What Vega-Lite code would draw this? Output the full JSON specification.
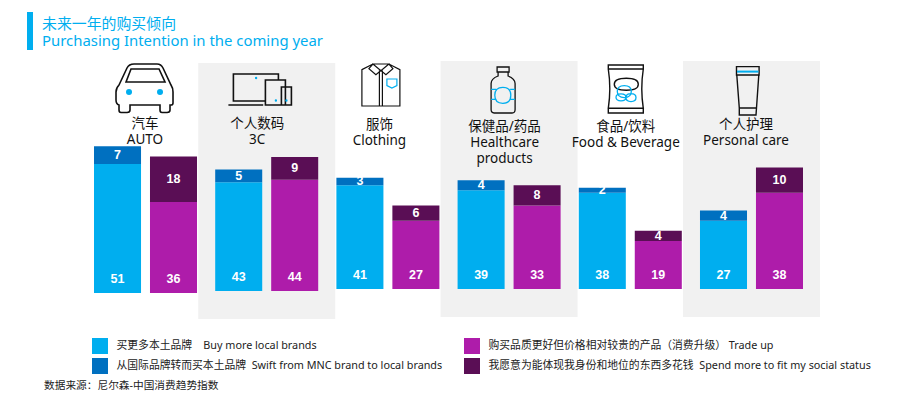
{
"$schema":"https://vega.github.io/schema/vega-lite/v6.json",
"width":904,"height":395,"padding":0,"autosize":{"type":"none"},"background":"white",
"data":{"values":[{}]},
"title":{"text":["未来一年的购买倾向","Purchasing Intention in the coming year"],"anchor":"start","frame":"group","dx":42,"dy":49,"offset":0,"orient":"top","font":"Noto Sans, Noto Sans CJK SC","fontSize":14.9,"fontWeight":"normal","color":"#00AEEF","lineHeight":17.5},
"config":{"axis":{"disable":true},"view":{"stroke":null},"font":"Noto Sans, Noto Sans CJK SC"},
"datasets":{"bars":[
{"category":"汽车","group":"local","part":"lower","series":"买更多本土品牌\u00a0\u00a0\u00a0\u00a0Buy more local brands","value":51},
{"category":"汽车","group":"local","part":"upper","series":"从国际品牌转而买本土品牌\u00a0\u00a0Swift from MNC brand to local brands","value":7},
{"category":"汽车","group":"premium","part":"lower","series":"购买品质更好但价格相对较贵的产品（消费升级）\u00a0Trade up","value":36},
{"category":"汽车","group":"premium","part":"upper","series":"我愿意为能体现我身份和地位的东西多花钱\u00a0\u00a0Spend more to fit my social status","value":18},
{"category":"个人数码","group":"local","part":"lower","series":"买更多本土品牌\u00a0\u00a0\u00a0\u00a0Buy more local brands","value":43},
{"category":"个人数码","group":"local","part":"upper","series":"从国际品牌转而买本土品牌\u00a0\u00a0Swift from MNC brand to local brands","value":5},
{"category":"个人数码","group":"premium","part":"lower","series":"购买品质更好但价格相对较贵的产品（消费升级）\u00a0Trade up","value":44},
{"category":"个人数码","group":"premium","part":"upper","series":"我愿意为能体现我身份和地位的东西多花钱\u00a0\u00a0Spend more to fit my social status","value":9},
{"category":"服饰","group":"local","part":"lower","series":"买更多本土品牌\u00a0\u00a0\u00a0\u00a0Buy more local brands","value":41},
{"category":"服饰","group":"local","part":"upper","series":"从国际品牌转而买本土品牌\u00a0\u00a0Swift from MNC brand to local brands","value":3},
{"category":"服饰","group":"premium","part":"lower","series":"购买品质更好但价格相对较贵的产品（消费升级）\u00a0Trade up","value":27},
{"category":"服饰","group":"premium","part":"upper","series":"我愿意为能体现我身份和地位的东西多花钱\u00a0\u00a0Spend more to fit my social status","value":6},
{"category":"保健品/药品","group":"local","part":"lower","series":"买更多本土品牌\u00a0\u00a0\u00a0\u00a0Buy more local brands","value":39},
{"category":"保健品/药品","group":"local","part":"upper","series":"从国际品牌转而买本土品牌\u00a0\u00a0Swift from MNC brand to local brands","value":4},
{"category":"保健品/药品","group":"premium","part":"lower","series":"购买品质更好但价格相对较贵的产品（消费升级）\u00a0Trade up","value":33},
{"category":"保健品/药品","group":"premium","part":"upper","series":"我愿意为能体现我身份和地位的东西多花钱\u00a0\u00a0Spend more to fit my social status","value":8},
{"category":"食品/饮料","group":"local","part":"lower","series":"买更多本土品牌\u00a0\u00a0\u00a0\u00a0Buy more local brands","value":38},
{"category":"食品/饮料","group":"local","part":"upper","series":"从国际品牌转而买本土品牌\u00a0\u00a0Swift from MNC brand to local brands","value":2},
{"category":"食品/饮料","group":"premium","part":"lower","series":"购买品质更好但价格相对较贵的产品（消费升级）\u00a0Trade up","value":19},
{"category":"食品/饮料","group":"premium","part":"upper","series":"我愿意为能体现我身份和地位的东西多花钱\u00a0\u00a0Spend more to fit my social status","value":4},
{"category":"个人护理","group":"local","part":"lower","series":"买更多本土品牌\u00a0\u00a0\u00a0\u00a0Buy more local brands","value":27},
{"category":"个人护理","group":"local","part":"upper","series":"从国际品牌转而买本土品牌\u00a0\u00a0Swift from MNC brand to local brands","value":4},
{"category":"个人护理","group":"premium","part":"lower","series":"购买品质更好但价格相对较贵的产品（消费升级）\u00a0Trade up","value":38},
{"category":"个人护理","group":"premium","part":"upper","series":"我愿意为能体现我身份和地位的东西多花钱\u00a0\u00a0Spend more to fit my social status","value":10}
]},
"layer":[
{"data":{"values":[{"category":"个人数码"}]},"mark":{"type":"bar","width":137,"color":"#F1F1F1"},
 "encoding":{"x":{"field":"category","type":"nominal","scale":{"domain":["汽车","个人数码","服饰","保健品/药品","食品/饮料","个人护理"],"range":[94,803],"paddingInner":0.15,"paddingOuter":0}},
 "y":{"datum":90.9,"type":"quantitative","scale":{"domain":[-40.32,115.81],"nice":false,"zero":false}},"y2":{"datum":-10.28}}},
{"data":{"values":[{"category":"保健品/药品"},{"category":"个人护理"}]},"mark":{"type":"bar","width":137,"color":"#F1F1F1"},
 "encoding":{"x":{"field":"category","type":"nominal"},"y":{"datum":91.7,"type":"quantitative"},"y2":{"datum":-9.49}}},

{"data":{"name":"bars"},
 "transform":[{"filter":"datum.category === '汽车'"},{"stack":"value","groupby":["category","group"],"sort":[{"field":"part","order":"ascending"}],"as":["y0","y1"]}],
 "mark":{"type":"bar"},
 "encoding":{"x":{"field":"category","type":"nominal"},
  "xOffset":{"field":"group","type":"nominal","scale":{"domain":["local","premium"],"paddingInner":0.16,"paddingOuter":0}},
  "y":{"field":"y0","type":"quantitative"},"y2":{"field":"y1"},
  "color":{"field":"series","type":"nominal","scale":{"domain":["买更多本土品牌\u00a0\u00a0\u00a0\u00a0Buy more local brands","从国际品牌转而买本土品牌\u00a0\u00a0Swift from MNC brand to local brands","购买品质更好但价格相对较贵的产品（消费升级）\u00a0Trade up","我愿意为能体现我身份和地位的东西多花钱\u00a0\u00a0Spend more to fit my social status"],"range":["#00AEEF","#0070C0","#AE1CAA","#5A0E55"]},
   "legend":{"title":null,"orient":"none","legendX":92,"legendY":338,"columns":2,"symbolType":"square","symbolSize":256,"symbolStrokeWidth":0,"labelFont":"Noto Sans, Noto Sans CJK SC","labelFontSize":10.8,"labelColor":"#222222","labelLimit":600,"labelOffset":8.5,"rowPadding":4,"columnPadding":21}}}},
{"data":{"name":"bars"},
 "transform":[{"filter":"datum.category === '个人数码'"},{"stack":"value","groupby":["category","group"],"sort":[{"field":"part","order":"ascending"}],"as":["y0","y1"]}],
 "mark":{"type":"bar","yOffset":-2,"y2Offset":-2},
 "encoding":{"x":{"field":"category","type":"nominal"},"xOffset":{"field":"group","type":"nominal"},"y":{"field":"y0","type":"quantitative"},"y2":{"field":"y1"},"color":{"field":"series","type":"nominal"}}},
{"data":{"name":"bars"},
 "transform":[{"filter":"datum.category !== '汽车' && datum.category !== '个人数码'"},{"stack":"value","groupby":["category","group"],"sort":[{"field":"part","order":"ascending"}],"as":["y0","y1"]}],
 "mark":{"type":"bar","yOffset":-4,"y2Offset":-4},
 "encoding":{"x":{"field":"category","type":"nominal"},"xOffset":{"field":"group","type":"nominal"},"y":{"field":"y0","type":"quantitative"},"y2":{"field":"y1"},"color":{"field":"series","type":"nominal"}}},

{"data":{"name":"bars"},"transform":[{"filter":"datum.part === 'lower' && datum.category === '汽车'"}],
 "mark":{"type":"text","color":"white","font":"Liberation Sans","fontWeight":"bold","fontSize":12.5,"baseline":"middle"},
 "encoding":{"x":{"field":"category","type":"nominal"},"xOffset":{"field":"group","type":"nominal"},"y":{"datum":5.5,"type":"quantitative"},"text":{"field":"value"}}},
{"data":{"name":"bars"},"transform":[{"filter":"datum.part === 'lower' && datum.category === '个人数码'"}],
 "mark":{"type":"text","color":"white","font":"Liberation Sans","fontWeight":"bold","fontSize":12.5,"baseline":"middle","dy":-2},
 "encoding":{"x":{"field":"category","type":"nominal"},"xOffset":{"field":"group","type":"nominal"},"y":{"datum":5.5,"type":"quantitative"},"text":{"field":"value"}}},
{"data":{"name":"bars"},"transform":[{"filter":"datum.part === 'lower' && datum.category !== '汽车' && datum.category !== '个人数码'"}],
 "mark":{"type":"text","color":"white","font":"Liberation Sans","fontWeight":"bold","fontSize":12.5,"baseline":"middle","dy":-4},
 "encoding":{"x":{"field":"category","type":"nominal"},"xOffset":{"field":"group","type":"nominal"},"y":{"datum":5.5,"type":"quantitative"},"text":{"field":"value"}}},

{"data":{"name":"bars"},
 "transform":[{"filter":"datum.category === '汽车'"},{"stack":"value","groupby":["category","group"],"sort":[{"field":"part","order":"ascending"}],"as":["y0","y1"]},{"filter":"datum.part === 'upper'"},{"fold":["y0","y1"],"as":["edge","pos"]}],
 "mark":{"type":"text","color":"white","font":"Liberation Sans","fontWeight":"bold","fontSize":12.5,"baseline":"middle"},
 "encoding":{"x":{"field":"category","type":"nominal"},"xOffset":{"field":"group","type":"nominal"},"y":{"aggregate":"mean","field":"pos","type":"quantitative"},"text":{"aggregate":"max","field":"value"}}},
{"data":{"name":"bars"},
 "transform":[{"filter":"datum.category === '个人数码'"},{"stack":"value","groupby":["category","group"],"sort":[{"field":"part","order":"ascending"}],"as":["y0","y1"]},{"filter":"datum.part === 'upper'"},{"fold":["y0","y1"],"as":["edge","pos"]}],
 "mark":{"type":"text","color":"white","font":"Liberation Sans","fontWeight":"bold","fontSize":12.5,"baseline":"middle","dy":-2},
 "encoding":{"x":{"field":"category","type":"nominal"},"xOffset":{"field":"group","type":"nominal"},"y":{"aggregate":"mean","field":"pos","type":"quantitative"},"text":{"aggregate":"max","field":"value"}}},
{"data":{"name":"bars"},
 "transform":[{"filter":"datum.category !== '汽车' && datum.category !== '个人数码'"},{"stack":"value","groupby":["category","group"],"sort":[{"field":"part","order":"ascending"}],"as":["y0","y1"]},{"filter":"datum.part === 'upper'"},{"fold":["y0","y1"],"as":["edge","pos"]}],
 "mark":{"type":"text","color":"white","font":"Liberation Sans","fontWeight":"bold","fontSize":12.5,"baseline":"middle","dy":-4},
 "encoding":{"x":{"field":"category","type":"nominal"},"xOffset":{"field":"group","type":"nominal"},"y":{"aggregate":"mean","field":"pos","type":"quantitative"},"text":{"aggregate":"max","field":"value"}}},

{"mark":{"type":"rule","color":"#00AEEF","strokeWidth":6},"encoding":{"x":{"datum":"汽车","type":"nominal"},"xOffset":{"value":-64},"y":{"datum":111.07,"type":"quantitative"},"y2":{"datum":96.05}}},
{"mark":{"type":"text","text":"汽车\nAUTO","lineBreak":"\n","lineHeight":16,"fontSize":13.5,"baseline":"top","color":"#111111"},"encoding":{"x":{"datum":"汽车","type":"nominal"},"xOffset":{"value":51},"y":{"datum":69.6,"type":"quantitative"}}},
{"mark":{"type":"text","text":"个人数码\n3C","lineBreak":"\n","lineHeight":16,"fontSize":13.5,"baseline":"top","color":"#111111"},"encoding":{"x":{"datum":"个人数码","type":"nominal"},"xOffset":{"value":42},"y":{"datum":69.4,"type":"quantitative"}}},
{"mark":{"type":"text","text":"服饰\nClothing","lineBreak":"\n","lineHeight":16,"fontSize":13.5,"baseline":"top","color":"#111111"},"encoding":{"x":{"datum":"服饰","type":"nominal"},"xOffset":{"value":43},"y":{"datum":69.2,"type":"quantitative"}}},
{"mark":{"type":"text","text":"保健品/药品\nHealthcare\nproducts","lineBreak":"\n","lineHeight":16,"fontSize":13.5,"baseline":"top","color":"#111111"},"encoding":{"x":{"datum":"保健品/药品","type":"nominal"},"xOffset":{"value":47},"y":{"datum":68.2,"type":"quantitative"}}},
{"mark":{"type":"text","text":"食品/饮料\nFood & Beverage","lineBreak":"\n","lineHeight":15.5,"fontSize":13.5,"baseline":"top","color":"#111111"},"encoding":{"x":{"datum":"食品/饮料","type":"nominal"},"xOffset":{"value":47},"y":{"datum":68.2,"type":"quantitative"}}},
{"mark":{"type":"text","text":"个人护理\nPersonal care","lineBreak":"\n","lineHeight":16,"fontSize":13.5,"baseline":"top","color":"#111111"},"encoding":{"x":{"datum":"个人护理","type":"nominal"},"xOffset":{"value":46},"y":{"datum":69.2,"type":"quantitative"}}},
{"mark":{"type":"text","text":"数据来源：尼尔森-中国消费趋势指数","align":"left","baseline":"middle","fontSize":10.7,"color":"#222222"},"encoding":{"x":{"datum":"汽车","type":"nominal"},"xOffset":{"value":-50},"y":{"datum":-36.9,"type":"quantitative"}}},

{"mark":{"type":"point","shape":"M-26.5,-5.6 l8,-17 q2,-4 7,-4 l23,0 q4,0 6,4 l8,17 q2,3 2,7 l0,11 q0,2 -2,2 l-1,0 l0,5 q0,2.5 -3,2.5 l-5,0 q-2,0 -2,-2.5 l0,-5 l-30,0 l0,5 q0,2.5 -3,2.5 l-6,0 q-2,0 -2,-2.5 l0,-5 q-3,-1 -3,-5 l0,-8 q0,-4 3,-7 z M-19.5,-8.6 l5,-13 l28,0 l6,13 z","size":4,"filled":false,"stroke":"#111111","strokeWidth":1.6,"opacity":1},"encoding":{"x":{"datum":"汽车","type":"nominal"},"y":{"datum":80,"type":"quantitative"}}},
{"mark":{"type":"point","shape":"M-19.5,1.4 q0,-3 3,-3 q3,0 3,3 q0,3 -3,3 q-3,0 -3,-3 z M11.5,1.4 q0,-3 3,-3 q3,0 3,3 q0,3 -3,3 q-3,0 -3,-3 z","size":4,"filled":true,"color":"#00AEEF","opacity":1},"encoding":{"x":{"datum":"汽车","type":"nominal"},"y":{"datum":80,"type":"quantitative"}}},

{"mark":{"type":"point","shape":"M11.7,-10.6 L11.7,-16.6 L-33.3,-16.6 L-33.3,10.4 L-1.3,10.4 M-38.3,14.4 L-3.5,14.4 M-1.3,-10.6 L18.7,-10.6 L18.7,14.4 L-1.3,14.4 Z M14.7,-3.6 L24.7,-3.6 L24.7,14.4 L14.7,14.4 Z","size":4,"filled":false,"stroke":"#111111","strokeWidth":1.6,"opacity":1},"encoding":{"x":{"datum":"个人数码","type":"nominal"},"y":{"datum":80,"type":"quantitative"}}},
{"mark":{"type":"point","shape":"M-11.8,-12.6 q0,-1.2 1.2,-1.2 q1.2,0 1.2,1.2 q0,1.2 -1.2,1.2 q-1.2,0 -1.2,-1.2 z M8,9.9 q0,-1.2 1.2,-1.2 q1.2,0 1.2,1.2 q0,1.2 -1.2,1.2 q-1.2,0 -1.2,-1.2 z M18.5,9.9 q0,-1.2 1.2,-1.2 q1.2,0 1.2,1.2 q0,1.2 -1.2,1.2 q-1.2,0 -1.2,-1.2 z","size":4,"filled":true,"color":"#00AEEF","opacity":1},"encoding":{"x":{"datum":"个人数码","type":"nominal"},"y":{"datum":80,"type":"quantitative"}}},

{"mark":{"type":"point","shape":"M-26,-21 L-15,-26.6 L1,-26.6 L12,-21 L12,15.4 L-26,15.4 Z M-15,-26.6 L-19,-22 L-12,-16 L-7,-20 L-2,-16 L5,-22 L1,-26.6 M-15,-26.6 L-7,-20 L1,-26.6 M-8.5,-20 L-8.5,15.4 M-5.5,-20 L-5.5,15.4","size":4,"filled":false,"stroke":"#111111","strokeWidth":1.2,"opacity":1},"encoding":{"x":{"datum":"服饰","type":"nominal"},"y":{"datum":80,"type":"quantitative"}}},
{"mark":{"type":"point","shape":"M-1,-11.6 L9,-11.6 L9,-5 L4,-2.6 L-1,-5 Z","size":4,"filled":false,"stroke":"#00AEEF","strokeWidth":1.2,"opacity":1},"encoding":{"x":{"datum":"服饰","type":"nominal"},"y":{"datum":80,"type":"quantitative"}}},

{"mark":{"type":"point","shape":"M-12,-23.6 L0,-23.6 L0,-18.6 L-12,-18.6 Z M-11,-18.6 L-11,-14.6 Q-18,-12 -18,-7 L-18,19 Q-18,22.4 -15,22.4 L3,22.4 Q6,22.4 6,19 L6,-7 Q6,-12 -1,-14.6 L-1,-18.6","size":4,"filled":false,"stroke":"#111111","strokeWidth":1.3,"opacity":1},"encoding":{"x":{"datum":"保健品/药品","type":"nominal"},"y":{"datum":80,"type":"quantitative"}}},
{"mark":{"type":"point","shape":"M-14.3,4.7 q0,-8 8,-8 q8,0 8,8 q0,8 -8,8 q-8,0 -8,-8 z M-18,-1.3 L-13,-1.3 M-18,8.7 L-13,8.7 M6,-1.3 L1,-1.3 M6,8.7 L1,8.7","size":4,"filled":false,"stroke":"#00AEEF","strokeWidth":1.3,"opacity":1},"encoding":{"x":{"datum":"保健品/药品","type":"nominal"},"y":{"datum":80,"type":"quantitative"}}},

{"mark":{"type":"point","shape":"M-22,-25.6 L13,-25.6 L13,-21.6 L-22,-21.6 Z M-22,-21.6 Q-19,-2 -22,17.7 L13,17.7 Q10,-2 13,-21.6 M-22,17.7 L13,17.7 L13,22.4 L-22,22.4 Z M-16,-6.3 q0,-6 12,-6 q12,0 12,6 q0,6 -12,6 q-12,0 -12,-6 z","size":4,"filled":false,"stroke":"#111111","strokeWidth":1.4,"opacity":1},"encoding":{"x":{"datum":"食品/饮料","type":"nominal"},"y":{"datum":80,"type":"quantitative"}}},
{"mark":{"type":"point","shape":"M-13,1 q0,-6 7,-6 q7,0 7,6 q0,6 -7,6 q-7,0 -7,-6 z M-14.3,6.7 q0,-3.5 5,-3.5 q5,0 5,3.5 q0,3.5 -5,3.5 q-5,0 -5,-3.5 z M-4.3,7 q0,-4 5,-4 q5,0 5,4 q0,4 -5,4 q-5,0 -5,-4 z","size":4,"filled":false,"stroke":"#00AEEF","strokeWidth":1.3,"opacity":1},"encoding":{"x":{"datum":"食品/饮料","type":"nominal"},"y":{"datum":80,"type":"quantitative"}}},

{"mark":{"type":"point","shape":"M-15,-24 L7.6,-24 L7.6,-15.6 L-15,-15.6 Z M-14.7,-15.6 L-12.2,17.4 L5,17.4 L7.3,-15.6 M-12.2,17.4 L-12.2,24.4 L4.5,24.4 L5,17.4","size":4,"filled":false,"stroke":"#111111","strokeWidth":1.4,"opacity":1},"encoding":{"x":{"datum":"个人护理","type":"nominal"},"y":{"datum":80,"type":"quantitative"}}},
{"mark":{"type":"point","shape":"M-14.5,-19 L7,-19","size":4,"filled":false,"stroke":"#00AEEF","strokeWidth":2,"opacity":1},"encoding":{"x":{"datum":"个人护理","type":"nominal"},"y":{"datum":80,"type":"quantitative"}}}
]
}
